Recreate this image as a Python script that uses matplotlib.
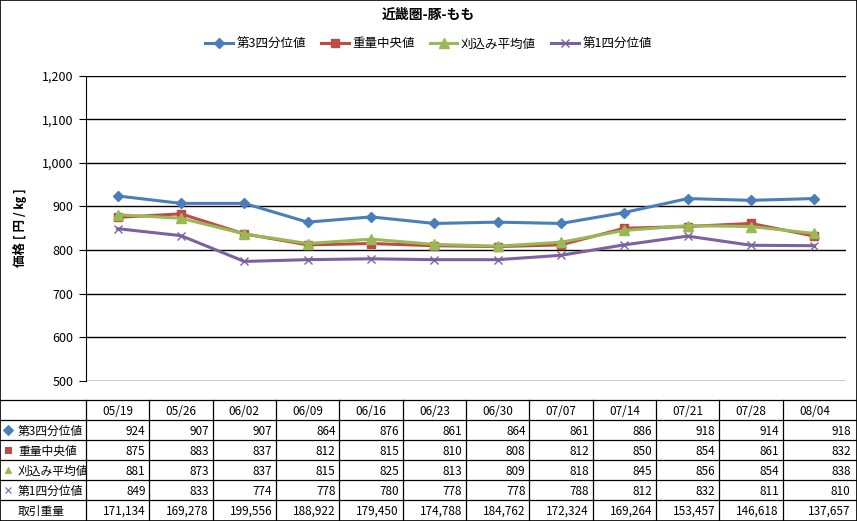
import matplotlib
matplotlib.use("Agg")
import matplotlib.pyplot as plt
from matplotlib.patches import Rectangle
from matplotlib.lines import Line2D

plt.rcParams['font.family'] = ['Noto Sans CJK JP', 'DejaVu Sans']

title = "近畿圏-豚-もも"
ylabel = "価格 [ 円 / ㎏ ]"
dates = ["05/19", "05/26", "06/02", "06/09", "06/16", "06/23", "06/30",
         "07/07", "07/14", "07/21", "07/28", "08/04"]
q3 = [924, 907, 907, 864, 876, 861, 864, 861, 886, 918, 914, 918]
median_w = [875, 883, 837, 812, 815, 810, 808, 812, 850, 854, 861, 832]
trim_mean = [881, 873, 837, 815, 825, 813, 809, 818, 845, 856, 854, 838]
q1 = [849, 833, 774, 778, 780, 778, 778, 788, 812, 832, 811, 810]
volume = [171134, 169278, 199556, 188922, 179450, 174788, 184762, 172324,
          169264, 153457, 146618, 137657]
series_names = ["第3四分位値", "重量中央値", "刈込み平均値", "第1四分位値"]
volume_name = "取引重量"
yticks = [500, 600, 700, 800, 900, 1000, 1100, 1200]

colors = ["#4A7EBB", "#BE4B48", "#98B954", "#7D60A0"]
markers = ["D", "s", "^", "x"]
msizes = [5, 6, 7, 6]

W, H = 857, 521
fig = plt.figure(figsize=(W / 100, H / 100), dpi=100)

def fx(px):
    return px / W

def fy(py):
    return 1 - py / H

ax_l, ax_r, ax_t, ax_b = 86, 846, 75.5, 381
ax = fig.add_axes([fx(ax_l), fy(ax_b), fx(ax_r - ax_l), (ax_b - ax_t) / H])
x = list(range(len(dates)))
all_series = [q3, median_w, trim_mean, q1]
for vals, name, c, m, ms in zip(all_series, series_names, colors, markers, msizes):
    ax.plot(x, vals, color=c, lw=2.2, marker=m, markersize=ms,
            markeredgecolor=c, markerfacecolor=c, markeredgewidth=1.0,
            label=name, zorder=3)

ax.set_xlim(-0.5, len(dates) - 0.5)
ax.set_ylim(500, 1200)
ax.set_yticks(yticks)
ax.set_yticklabels([f"{v:,}" for v in yticks], fontsize=9)
ax.yaxis.grid(True, color="black", lw=1.0)
ax.set_axisbelow(True)
ax.set_xticks([])
for s in ["top", "right", "bottom"]:
    ax.spines[s].set_visible(False)
ax.spines["left"].set_color("black")
ax.tick_params(axis="y", length=5, color="black", pad=4)

fig.text(fx(20), fy(228), ylabel, rotation=90, ha="center", va="center",
         fontsize=9, fontweight="bold")

fig.text(0.5, fy(15), title, ha="center", va="center", fontsize=10, fontweight="bold")

handles = [Line2D([0], [0], color=c, lw=2.2, marker=m, markersize=ms,
                  markeredgecolor=c, markerfacecolor=c)
           for c, m, ms in zip(colors, markers, msizes)]
fig.legend(handles, series_names, loc="center", bbox_to_anchor=(0.5, fy(44)),
           ncol=4, frameon=False, fontsize=9, handlelength=2.2,
           columnspacing=1.2, handletextpad=0.3)

# data table
unit = (ax_r - ax_l) / len(dates)
tx0 = -0.5 - ax_l / unit
tx1 = len(dates) - 0.5 + (W - ax_r) / unit
tb_top, tb_bot = 400, 520.5
tab = fig.add_axes([0, fy(tb_bot), 1, (tb_bot - tb_top) / H])
tab.set_xlim(tx0, tx1)
tab.set_ylim(6, 0)
tab.axis("off")

lw = 0.9
for r in range(7):
    tab.plot([tx0, tx1], [r, r], color="black", lw=lw, clip_on=False)
for i in range(len(dates)):
    tab.plot([i - 0.5, i - 0.5], [0, 6], color="black", lw=lw, clip_on=False)
tab.plot([tx1, tx1], [0, 6], color="black", lw=lw, clip_on=False)

for i, d in enumerate(dates):
    tab.text(i, 0.55, d, ha="center", va="center", fontsize=8.5)

rows = all_series + [volume]
row_names = series_names + [volume_name]
for r, (vals, name) in enumerate(zip(rows, row_names), start=1):
    for i, v in enumerate(vals):
        right = (i + 0.44) if i < len(dates) - 1 else (tx1 - 0.1)
        tab.text(right, r + 0.55, f"{v:,}", ha="right", va="center", fontsize=8.5)
    tab.text(tx0 + 18 / unit, r + 0.55, name, ha="left", va="center", fontsize=8.5)
    if r <= 4:
        c, m = colors[r - 1], markers[r - 1]
        tab.plot([tx0 + 8 / unit], [r + 0.5], marker=m, color=c,
                 markersize=5 if m != "x" else 4,
                 markeredgecolor=c, markerfacecolor=c, markeredgewidth=0.8, clip_on=False)

fig.patches.append(Rectangle((0, 0), 1, 1, transform=fig.transFigure, fill=False,
                             edgecolor="black", lw=1.2))

fig.savefig("out.png", dpi=100)
